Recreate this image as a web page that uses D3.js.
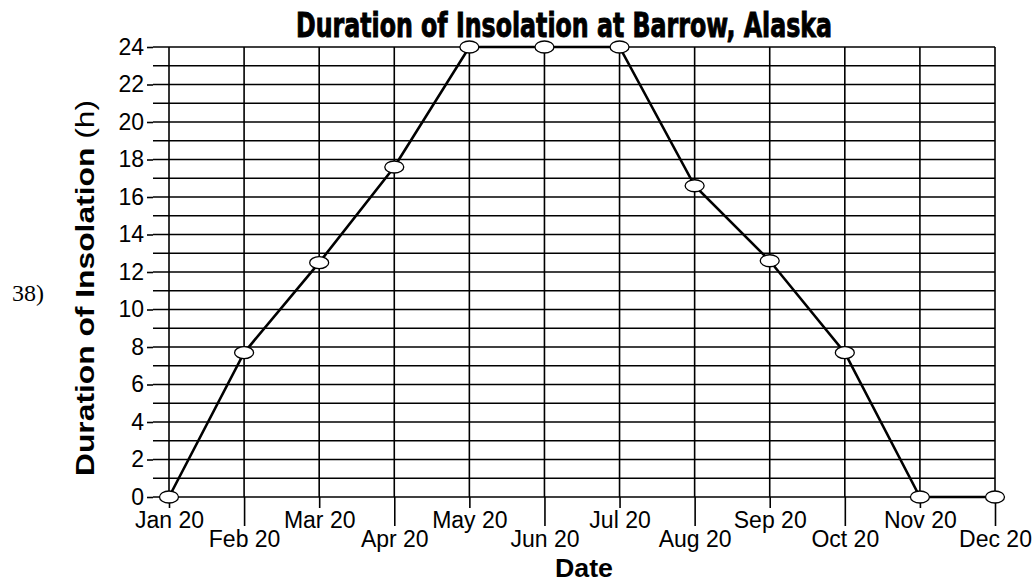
<!DOCTYPE html>
<html>
<head>
<meta charset="utf-8">
<script src="https://cdn.jsdelivr.net/npm/d3@7"></script>
<style>
  body { margin: 0; background: #fff; }
  svg { display: block; font-family: "Liberation Sans", Arial, sans-serif; }
</style>
</head>
<body>
<svg id="chart" width="1036" height="582"></svg>
<script>
// Chart data
const months = ["Jan 20", "Feb 20", "Mar 20", "Apr 20", "May 20", "Jun 20",
                "Jul 20", "Aug 20", "Sep 20", "Oct 20", "Nov 20", "Dec 20"];
const hours = [0, 7.7, 12.5, 17.6, 24, 24, 24, 16.6, 12.6, 7.7, 0, 0];
const yTicks = [0, 2, 4, 6, 8, 10, 12, 14, 16, 18, 20, 22, 24];
const yGrid = d3.range(0, 25, 1);

const svg = d3.select("#chart");

// scales
const x = d3.scalePoint().domain(months).range([169, 995]);
const y = d3.scaleLinear().domain([0, 24]).range([497, 47]);

// horizontal grid (every hour)
svg.append("g")
  .selectAll("line")
  .data(yGrid)
  .enter()
  .append("line")
  .attr("x1", 153)
  .attr("x2", x(months[months.length - 1]))
  .attr("y1", d => y(d))
  .attr("y2", d => y(d))
  .attr("stroke", "#000")
  .attr("stroke-width", 1.6);

// vertical grid (every month)
svg.append("g")
  .selectAll("line")
  .data(months)
  .enter()
  .append("line")
  .attr("x1", d => x(d))
  .attr("x2", d => x(d))
  .attr("y1", y(24))
  .attr("y2", y(0))
  .attr("stroke", "#000")
  .attr("stroke-width", 1.6);

// y axis
const yAxis = svg.append("g")
  .attr("transform", "translate(153,0)")
  .call(d3.axisLeft(y).tickValues(yTicks).tickSize(6).tickPadding(3));
yAxis.select(".domain").remove();
yAxis.selectAll(".tick line").attr("stroke", "#000").attr("stroke-width", 1.6);
yAxis.selectAll(".tick text")
  .attr("fill", "#000")
  .style("font-size", "23px")
  .style("font-family", "'Liberation Sans', Arial, sans-serif");

// x axis, labels staggered over two rows
const xAxis = svg.append("g")
  .attr("transform", `translate(0,${y(0)})`)
  .call(d3.axisBottom(x).tickSize(0));
xAxis.select(".domain").remove();
xAxis.selectAll(".tick line")
  .attr("stroke", "#000")
  .attr("stroke-width", 1.6)
  .attr("y2", (d, i) => i % 2 ? 29 : 11);
xAxis.selectAll(".tick text")
  .attr("fill", "#000")
  .attr("dy", 0)
  .attr("y", (d, i) => i % 2 ? 50 : 31)
  .style("font-size", "23px")
  .style("font-family", "'Liberation Sans', Arial, sans-serif");

// the data line
const line = d3.line()
  .x((d, i) => x(months[i]))
  .y(d => y(d));

svg.append("path")
  .datum(hours)
  .attr("d", line)
  .attr("fill", "none")
  .attr("stroke", "#000")
  .attr("stroke-width", 2.6);

// markers
svg.append("g")
  .selectAll("ellipse")
  .data(hours)
  .enter()
  .append("ellipse")
  .attr("cx", (d, i) => x(months[i]))
  .attr("cy", d => y(d))
  .attr("rx", 9.5)
  .attr("ry", 6)
  .attr("fill", "#fff")
  .attr("stroke", "#000")
  .attr("stroke-width", 1.3);

// title (heavy condensed look)
svg.append("text")
  .attr("x", 564)
  .attr("y", 37)
  .attr("text-anchor", "middle")
  .attr("textLength", 536)
  .attr("lengthAdjust", "spacingAndGlyphs")
  .attr("stroke", "#000")
  .attr("stroke-width", 0.9)
  .style("font-family", "'DejaVu Sans Condensed', 'DejaVu Sans', sans-serif")
  .style("font-weight", "bold")
  .style("font-size", "33px")
  .text("Duration of Insolation at Barrow, Alaska");

// y label
const yLabel = svg.append("text")
  .attr("transform", "translate(94,288) rotate(-90)")
  .attr("text-anchor", "middle")
  .attr("textLength", 376)
  .attr("lengthAdjust", "spacingAndGlyphs")
  .style("font-size", "26px");
yLabel.append("tspan").style("font-weight", "bold").text("Duration of Insolation ");
yLabel.append("tspan").text("(h)");

// x label
svg.append("text")
  .attr("x", 584)
  .attr("y", 577)
  .attr("text-anchor", "middle")
  .attr("textLength", 58)
  .attr("lengthAdjust", "spacingAndGlyphs")
  .style("font-size", "26px")
  .style("font-weight", "bold")
  .text("Date");

// question number
svg.append("text")
  .attr("x", 12)
  .attr("y", 301)
  .style("font-family", "'Liberation Serif', 'Times New Roman', serif")
  .style("font-size", "24px")
  .text("38)");
</script>
</body>
</html>
